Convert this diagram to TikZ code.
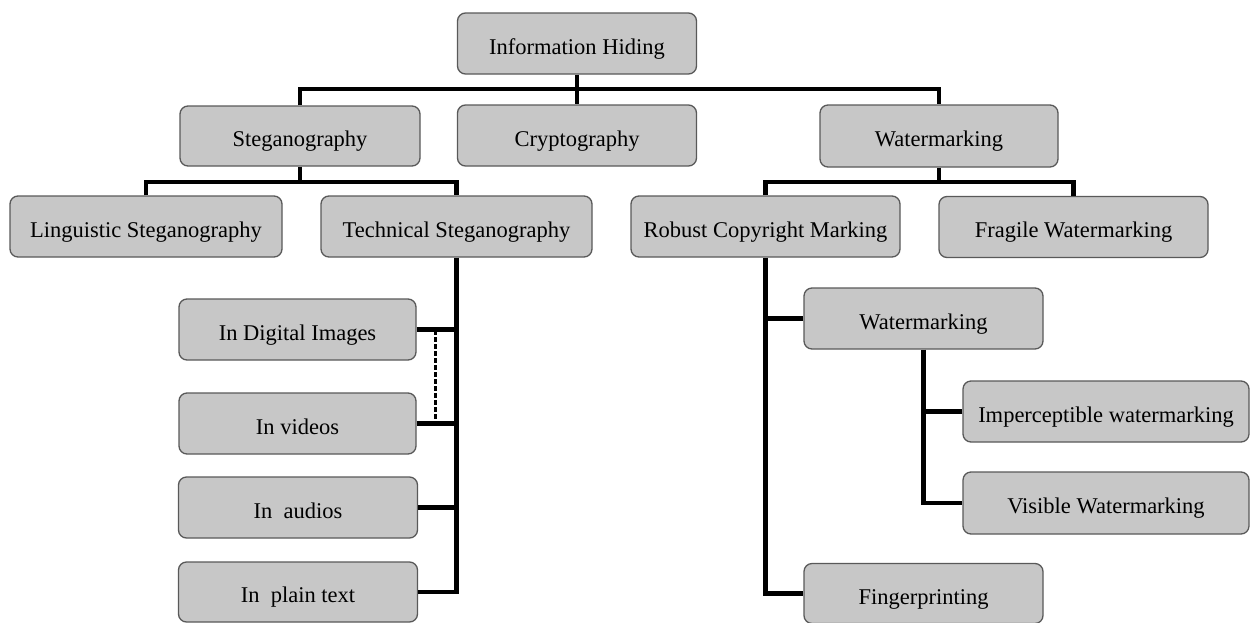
\documentclass[tikz,border=0pt]{standalone}
\usepackage{fontspec}
\setmainfont{Liberation Serif}
\begin{document}
\begin{tikzpicture}[x=1pt,y=-1pt,
  box/.style={draw=black!65, line width=1.3pt, fill=black!22, rounded corners=8pt,
    inner sep=0pt, text=black, font=\fontsize{22.5}{26}\selectfont,
    text height=23pt, text depth=2pt},
  conn/.style={draw=black, line width=4.4pt},
  dashconn/.style={draw=black, line width=3pt, dash pattern=on 4.5pt off 2.5pt}]
\useasboundingbox (0,0) rectangle (1256,622);

% level 0
\node[box, minimum width=239pt, minimum height=61pt] (ih) at (577,43.5) {Information Hiding};
% level 1
\node[box, minimum width=240pt, minimum height=60pt] (steg) at (300,136) {Steganography};
\node[box, minimum width=239pt, minimum height=61pt] (crypt) at (577,135.5) {Cryptography};
\node[box, minimum width=238pt, minimum height=62pt] (wm) at (939,136) {Watermarking};
% level 2
\node[box, minimum width=272pt, minimum height=61pt] (ling) at (146,226.5) {Linguistic Steganography};
\node[box, minimum width=271pt, minimum height=61pt] (tech) at (456.5,226.5) {Technical Steganography};
\node[box, minimum width=269pt, minimum height=61pt] (rob) at (765.5,226.5) {Robust Copyright Marking};
\node[box, minimum width=269pt, minimum height=61pt] (frag) at (1073.5,227) {Fragile Watermarking};
% technical steganography media
\node[box, minimum width=237pt, minimum height=61pt] (di) at (297.5,329.5) {In Digital Images};
\node[box, minimum width=237pt, minimum height=61pt] (vid) at (297.5,423.5) {In videos};
\node[box, minimum width=239pt, minimum height=61pt] (aud) at (298,507.5) {In\ \ audios};
\node[box, minimum width=239pt, minimum height=60pt] (pt) at (298,592) {In\ \ plain text};
% robust marking branch
\node[box, minimum width=239pt, minimum height=61pt] (wm2) at (923.5,318.5) {Watermarking};
\node[box, minimum width=286pt, minimum height=61pt] (imp) at (1106,411.5) {Imperceptible watermarking};
\node[box, minimum width=286pt, minimum height=62pt] (vis) at (1106,503) {Visible Watermarking};
\node[box, minimum width=239pt, minimum height=60pt] (fp) at (923.5,593.5) {Fingerprinting};

% junction points of the bus lines
\coordinate (top) at (577,89);
\coordinate (sbus) at (300,182);
\coordinate (wbus) at (939,182);
\coordinate (d1) at (435,330);
\coordinate (d2) at (435,424);

% top level
\draw[conn] (ih.south) -- (crypt.north);
\draw[conn] (steg.north) |- (top) -| (wm.north);
% steganography
\draw[conn] (steg.south) -- (sbus);
\draw[conn] (ling.north) |- (sbus) -| (tech.north);
% watermarking
\draw[conn] (wm.south) -- (wbus);
\draw[conn] (rob.north) |- (wbus) -| (frag.north);
% technical steganography media
\draw[conn] (tech.south) |- (pt.east);
\draw[conn] (di.east) -- (di.east -| tech.south);
\draw[conn] (vid.east) -- (vid.east -| tech.south);
\draw[conn] (aud.east) -- (aud.east -| tech.south);
\draw[dashconn] (d1) -- (d2);
% robust marking
\draw[conn] (rob.south) |- (fp.west);
\draw[conn] (wm2.west) -- (wm2.west -| rob.south);
\draw[conn] (wm2.south) |- (vis.west);
\draw[conn] (imp.west) -- (imp.west -| wm2.south);
\end{tikzpicture}
\end{document}
